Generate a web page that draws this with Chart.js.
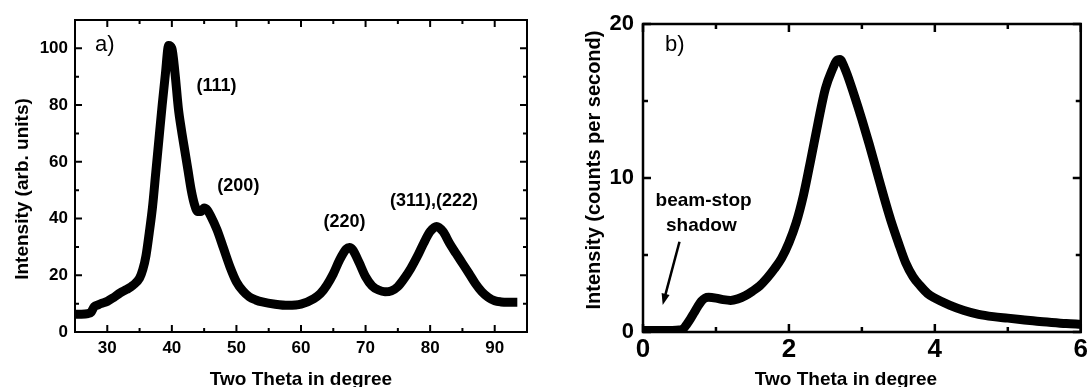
<!DOCTYPE html>
<html>
<head>
<meta charset="utf-8">
<script src="https://cdn.jsdelivr.net/npm/chart.js@4.4.1/dist/chart.umd.min.js"></script>
<style>
  html, body { margin: 0; padding: 0; background: #fff; overflow: hidden; }
  #wrap { position: relative; width: 1090px; height: 387px; }
  canvas { position: absolute; top: 0; }
  #chartA { left: 0; }
  #chartB { left: 545px; }
</style>
</head>
<body>
<div id="wrap">
  <canvas id="chartA" width="545" height="387"></canvas>
  <canvas id="chartB" width="545" height="387"></canvas>
</div>
<script>
// a) diffraction pattern
const thetaA = [25, 26, 27, 27.5, 28, 28.5, 29, 30, 31, 32, 33, 34, 35, 35.5, 36, 36.5, 37, 37.5, 38, 38.5,
  39, 39.5, 40, 40.5, 41, 41.5, 42, 42.5, 43, 43.5, 44, 44.5, 45, 45.5, 46, 47, 48, 49, 50, 51,
  52, 53, 54, 56, 58, 60, 62, 63, 64, 65, 66, 67, 67.5, 68, 69, 70, 71, 72, 73, 74,
  75, 76, 77, 78, 79, 80, 81, 82, 83, 84, 85, 86, 87, 88, 89, 90, 91, 92, 93.5];
const intensityA = [6.3, 6.3, 6.5, 7, 9, 9.5, 10, 10.8, 12.2, 13.8, 15, 16.5, 19, 22, 27, 35, 44, 56, 68, 80,
  91, 101, 100, 91, 79, 71, 64, 57, 50, 45, 42.5, 42.5, 43.7, 43, 41, 36, 29.5, 23, 17.7, 14.5,
  12.4, 11.3, 10.6, 9.8, 9.4, 9.8, 11.8, 13.5, 16.5, 20.5, 25.5, 29.2, 29.8, 29, 24.5, 19.5, 16.3, 14.8, 14.2, 14.5,
  16, 18.9, 22.4, 26.6, 31.3, 35.4, 37.2, 35.4, 31.3, 27.7, 24.2, 20.7, 17.1, 14.2, 12.2, 11, 10.6, 10.5, 10.5];
const xTicksA = [30, 40, 50, 60, 70, 80, 90];
const xMinorA = [35, 45, 55, 65, 75, 85];
const yTicksA = [0, 20, 40, 60, 80, 100];
const yMinorA = [10, 30, 50, 70, 90];
const peakLabelsA = ['(111)', '(200)', '(220)', '(311),(222)'];
const peakAtA = [[46.9, 86.7], [50.3, 51.3], [66.75, 38.9], [80.6, 46.3]];

// b) small-angle scan
const thetaB = [0, 0.1, 0.2, 0.3, 0.4, 0.5, 0.55, 0.6, 0.65, 0.7, 0.75, 0.8, 0.85, 0.9, 1.0, 1.1, 1.2, 1.3, 1.4, 1.5,
  1.6, 1.7, 1.8, 1.9, 2.0, 2.1, 2.2, 2.3, 2.4, 2.5, 2.6, 2.65, 2.7, 2.75, 2.8, 2.9, 3.0, 3.1, 3.2, 3.3,
  3.4, 3.5, 3.6, 3.7, 3.8, 3.9, 4.0, 4.2, 4.4, 4.6, 4.8, 5.0, 5.2, 5.4, 5.6, 5.8, 6.0];
const countsB = [0.1, 0.1, 0.1, 0.1, 0.1, 0.13, 0.2, 0.5, 0.85, 1.25, 1.65, 2.0, 2.2, 2.25, 2.2, 2.1, 2.05, 2.15, 2.35, 2.65,
  3.0, 3.5, 4.1, 4.8, 5.8, 7.1, 8.9, 11.2, 13.6, 15.8, 17.1, 17.6, 17.7, 17.3, 16.7, 15.3, 13.8, 12.2, 10.5, 8.8,
  7.2, 5.8, 4.5, 3.6, 3.0, 2.5, 2.2, 1.75, 1.4, 1.15, 1.0, 0.9, 0.8, 0.7, 0.62, 0.55, 0.5];
const xTicksB = [0, 2, 4, 6];
const xMinorB = [1, 3, 5];
const yTicksB = [0, 10, 20];
const yMinorB = [5, 15];

const FONT = '"Liberation Sans", Arial, Helvetica, sans-serif';

// box with inward ticks on all four sides + free text
const framePlugin = {
  id: 'frame',
  afterDraw(chart, args, o) {
    const {ctx, chartArea: a, scales: {x, y}} = chart;
    ctx.save();
    ctx.strokeStyle = '#000';
    ctx.lineWidth = o.lineWidth;
    ctx.strokeRect(a.left, a.top, a.right - a.left, a.bottom - a.top);
    const xt = (vals, len) => vals.forEach(v => {
      const p = x.getPixelForValue(v);
      ctx.beginPath();
      ctx.moveTo(p, a.bottom); ctx.lineTo(p, a.bottom - len);
      ctx.moveTo(p, a.top); ctx.lineTo(p, a.top + len);
      ctx.stroke();
    });
    const yt = (vals, len) => vals.forEach(v => {
      const p = y.getPixelForValue(v);
      ctx.beginPath();
      ctx.moveTo(a.left, p); ctx.lineTo(a.left + len, p);
      ctx.moveTo(a.right, p); ctx.lineTo(a.right - len, p);
      ctx.stroke();
    });
    xt(o.xMajor, o.major); xt(o.xMinor, o.minor);
    yt(o.yMajor, o.major); yt(o.yMinor, o.minor);

    ctx.fillStyle = '#000';
    o.texts.forEach(t => {
      let px = t.x, py = t.y;
      if (t.data) { px = x.getPixelForValue(t.x); py = y.getPixelForValue(t.y); }
      ctx.save();
      ctx.translate(px, py);
      if (t.rotate) ctx.rotate(t.rotate);
      ctx.font = t.font;
      ctx.textAlign = t.align || 'center';
      ctx.textBaseline = t.baseline || 'middle';
      ctx.fillText(t.text, 0, 0);
      ctx.restore();
    });

    if (o.arrow) {
      const p0 = [x.getPixelForValue(o.arrow[0][0]), y.getPixelForValue(o.arrow[0][1])];
      const p1 = [x.getPixelForValue(o.arrow[1][0]), y.getPixelForValue(o.arrow[1][1])];
      const ang = Math.atan2(p1[1] - p0[1], p1[0] - p0[0]);
      ctx.lineWidth = 2.5;
      ctx.beginPath();
      ctx.moveTo(p0[0], p0[1]);
      ctx.lineTo(p1[0] - 8 * Math.cos(ang), p1[1] - 8 * Math.sin(ang));
      ctx.stroke();
      ctx.beginPath();
      ctx.moveTo(p1[0], p1[1]);
      ctx.lineTo(p1[0] - 12 * Math.cos(ang - 0.35), p1[1] - 12 * Math.sin(ang - 0.35));
      ctx.lineTo(p1[0] - 12 * Math.cos(ang + 0.35), p1[1] - 12 * Math.sin(ang + 0.35));
      ctx.closePath();
      ctx.fill();
    }
    ctx.restore();
  }
};

function makePanel(id, cfg) {
  return new Chart(document.getElementById(id), {
    type: 'line',
    data: {
      datasets: [{
        data: cfg.xs.map((v, i) => ({x: v, y: cfg.ys[i]})),
        borderColor: '#000',
        borderWidth: cfg.lineWidth,
        pointRadius: 0,
        cubicInterpolationMode: 'monotone',
        borderJoinStyle: 'round'
      }]
    },
    options: {
      responsive: false,
      animation: false,
      events: [],
      layout: {autoPadding: false, padding: cfg.padding},
      plugins: {legend: {display: false}, tooltip: {enabled: false}, frame: cfg.frame},
      scales: {
        x: {
          type: 'linear', min: cfg.xMin, max: cfg.xMax,
          grid: {display: false, drawTicks: false}, border: {display: false},
          afterBuildTicks: s => { s.ticks = cfg.frame.xMajor.map(v => ({value: v})); },
          afterFit: s => { s.height = 55; },
          ticks: {font: cfg.xFont, color: '#000', padding: cfg.xPad, maxRotation: 0, autoSkip: false}
        },
        y: {
          type: 'linear', min: cfg.yMin, max: cfg.yMax,
          grid: {display: false, drawTicks: false}, border: {display: false},
          afterBuildTicks: s => { s.ticks = cfg.frame.yMajor.map(v => ({value: v})); },
          afterFit: s => { s.width = cfg.yWidth; },
          ticks: {font: cfg.yFont, color: '#000', padding: cfg.yPad, autoSkip: false}
        }
      }
    },
    plugins: [framePlugin]
  });
}

const textsA = peakLabelsA.map((t, i) => ({text: t, x: peakAtA[i][0], y: peakAtA[i][1], data: true, font: 'bold 18px ' + FONT}));
textsA.push({text: 'a)', x: 95, y: 45, align: 'left', font: '22px ' + FONT});
textsA.push({text: 'Two Theta in degree', x: 301, y: 385, baseline: 'alphabetic', font: 'bold 19px ' + FONT});
textsA.push({text: 'Intensity (arb. units)', x: 22.5, y: 189, rotate: -Math.PI / 2, font: 'bold 19px ' + FONT});

makePanel('chartA', {
  xs: thetaA, ys: intensityA, lineWidth: 9,
  xMin: 25, xMax: 95, yMin: 0, yMax: 110,
  padding: {top: 20, right: 18, left: 0, bottom: 0},
  yWidth: 75, xPad: 6, yPad: 7,
  xFont: {family: FONT, size: 17, weight: 'bold'},
  yFont: {family: FONT, size: 17, weight: 'bold'},
  frame: {lineWidth: 2, major: 7, minor: 4,
    xMajor: xTicksA, xMinor: xMinorA, yMajor: yTicksA, yMinor: yMinorA, texts: textsA}
});

const textsB = [
  {text: 'b)', x: 665, y: 45, align: 'left', font: '22px ' + FONT},
  {text: 'beam-stop', x: 0.83, y: 8.53, data: true, font: 'bold 19px ' + FONT},
  {text: 'shadow', x: 0.8, y: 6.9, data: true, font: 'bold 19px ' + FONT},
  {text: 'Two Theta in degree', x: 301, y: 385, baseline: 'alphabetic', font: 'bold 19px ' + FONT},
  {text: 'Intensity (counts per second)', x: 49.5, y: 170, rotate: -Math.PI / 2, font: 'bold 20px ' + FONT}
];
textsB[0].x -= 545;

makePanel('chartB', {
  xs: thetaB, ys: countsB, lineWidth: 9,
  xMin: 0, xMax: 6, yMin: 0, yMax: 20,
  padding: {top: 24, right: 4, left: 0, bottom: 0},
  yWidth: 98, xPad: 2, yPad: 9,
  xFont: {family: FONT, size: 26, weight: 'bold'},
  yFont: {family: FONT, size: 22, weight: 'bold'},
  frame: {lineWidth: 2.5, major: 8, minor: 5,
    xMajor: xTicksB, xMinor: xMinorB, yMajor: yTicksB, yMinor: yMinorB, texts: textsB,
    arrow: [[0.5, 5.86], [0.27, 1.76]]}
});
</script>
</body>
</html>
